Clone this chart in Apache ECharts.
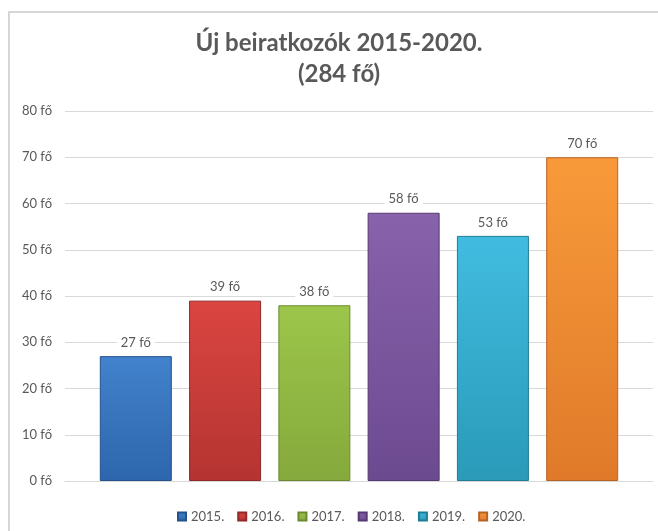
<!DOCTYPE html>
<html>
<head>
<meta charset="utf-8">
<script src="https://cdn.jsdelivr.net/npm/echarts@6/dist/echarts.min.js"></script>
<style>
html,body{margin:0;padding:0;background:#fff;}
#main{width:658px;height:531px;}
</style>
</head>
<body>
<div id="main"></div>
<script>
// adatok
var years = ['2015.', '2016.', '2017.', '2018.', '2019.', '2020.'];
var values = [27, 39, 38, 58, 53, 70];
var topColors = ['#4282cc', '#db4541', '#9cc64a', '#8862ab', '#41bce0', '#f89a3a'];
var bottomColors = ['#2d66ac', '#b43431', '#85a93c', '#6c4a90', '#2a9ab8', '#e07a2a'];
var borderColors = ['#24528c', '#8f2927', '#6b8a2f', '#553a72', '#1f7c95', '#b86222'];

window.onload = function () {
	var myChart = echarts.init(document.getElementById('main'));
	var font = 'Lato';

	var series = years.map(function (y, i) {
		return {
			name: y,
			type: 'bar',
			data: [values[i]],
			barWidth: 72,
			barGap: '24%',
			itemStyle: {
				color: new echarts.graphic.LinearGradient(0, 0, 0, 1, [
					{offset: 0, color: topColors[i]},
					{offset: 1, color: bottomColors[i]}
				]),
				borderColor: borderColors[i],
				borderWidth: 1
			},
			label: {
				show: true,
				position: 'top',
				distance: 6,
				formatter: '{c} fő',
				color: '#595959',
				fontFamily: font,
				fontSize: 13,
				backgroundColor: '#fff',
				padding: [1, 4]
			}
		};
	});

	var option = {
		backgroundColor: '#fff',
		color: topColors,
		graphic: [{
			type: 'rect',
			shape: {x: 9, y: 12, width: 700, height: 600},
			style: {fill: 'none', stroke: '#d6d6d6', lineWidth: 2},
			silent: true,
			z: -1
		}, {
			// cím
			type: 'text',
			x: 339,
			y: 28,
			style: {
				text: 'Új beiratkozók 2015-2020.\n(284 fő)',
				align: 'center',
				fill: '#595959',
				fontFamily: font,
				fontWeight: 'bold',
				fontSize: 24,
				lineHeight: 31
			}
		}],
		legend: {
			data: years,
			left: 172,
			top: 505,
			icon: 'rect',
			itemWidth: 8,
			itemHeight: 8,
			itemGap: 13,
			textStyle: {color: '#595959', fontFamily: font, fontSize: 13}
		},
		grid: {left: 65, right: 5, top: 111, bottom: 50, containLabel: false},
		xAxis: {
			type: 'category',
			data: [''],
			axisLine: {lineStyle: {color: '#d9d9d9'}},
			axisTick: {show: false},
			axisLabel: {show: false}
		},
		yAxis: {
			type: 'value',
			min: 0,
			max: 80,
			interval: 10,
			axisLine: {show: false},
			axisTick: {show: false},
			axisLabel: {
				formatter: '{value} fő',
				color: '#595959',
				fontFamily: font,
				fontSize: 13,
				margin: 13
			},
			splitLine: {lineStyle: {color: '#d9d9d9'}}
		},
		series: series
	};
	myChart.setOption(option);
};
</script>
</body>
</html>
